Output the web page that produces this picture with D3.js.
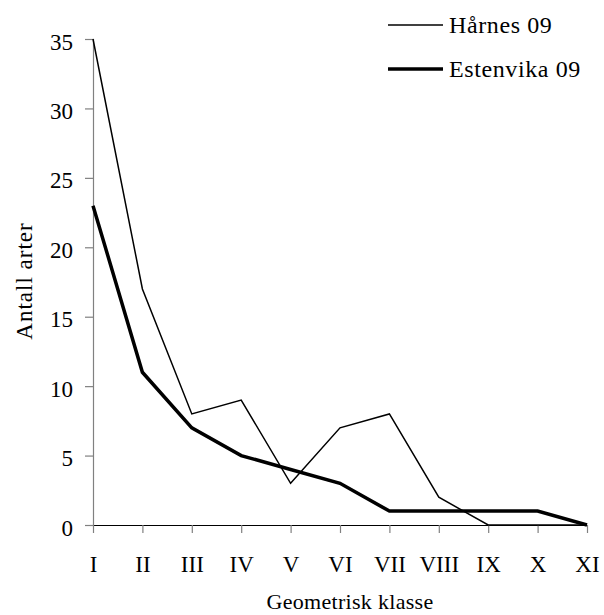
<!DOCTYPE html>
<html>
<head>
<meta charset="utf-8">
<script src="https://cdn.jsdelivr.net/npm/d3@7"></script>
<style>
  body { margin: 0; background: #fff; }
  svg text { font-family: "Liberation Serif", "DejaVu Serif", serif !important; fill: #000; }
</style>
</head>
<body>
<div id="chart"></div>
<script>
var classes = ['I', 'II', 'III', 'IV', 'V', 'VI', 'VII', 'VIII', 'IX', 'X', 'XI'];
var harnes = [35, 17, 8, 9, 3, 7, 8, 2, 0, 0, 0];
var estenvika = [23, 11, 7, 5, 4, 3, 1, 1, 1, 1, 0];
var yTicks = [0, 5, 10, 15, 20, 25, 30, 35];

var series = [
  { name: 'Hårnes 09', values: harnes, width: 1.5 },
  { name: 'Estenvika 09', values: estenvika, width: 3.5 }
];

var width = 604, height = 615;
var svg = d3.select('#chart').append('svg')
  .attr('width', width)
  .attr('height', height);

var x = d3.scalePoint().domain(classes).range([93, 587]);
var y = d3.scaleLinear().domain([0, 35]).range([525, 39]);

// y axis, grey like the original
var yAxis = svg.append('g')
  .attr('transform', 'translate(93,0)')
  .call(d3.axisLeft(y).tickValues(yTicks).tickSize(8).tickPadding(12));
yAxis.select('.domain').attr('stroke', '#808080').attr('stroke-width', 1.2);
yAxis.selectAll('.tick line').attr('stroke', '#808080').attr('stroke-width', 1.2);
yAxis.selectAll('text')
  .attr('x', -20)
  .attr('dy', 10)
  .style('font-size', '23px');

// x axis
var xAxis = svg.append('g')
  .attr('transform', 'translate(0,525)')
  .call(d3.axisBottom(x).tickSize(8).tickSizeOuter(0));
xAxis.select('.domain').attr('stroke', '#000').attr('stroke-width', 1.2);
xAxis.selectAll('.tick line').attr('stroke', '#808080').attr('stroke-width', 1.2);
xAxis.selectAll('text')
  .attr('y', 47)
  .attr('dy', 0)
  .style('font-size', '23px');

var line = d3.line()
  .x(function(d, i) { return x(classes[i]); })
  .y(function(d) { return y(d); });

svg.selectAll('path.series')
  .data(series)
  .enter().append('path')
  .attr('class', 'series')
  .attr('d', function(d) { return line(d.values); })
  .attr('fill', 'none')
  .attr('stroke', '#000')
  .attr('stroke-width', function(d) { return d.width; });

// axis titles
svg.append('text')
  .attr('x', 350).attr('y', 609)
  .attr('text-anchor', 'middle')
  .style('font-size', '22px')
  .style('letter-spacing', '0.3px')
  .text('Geometrisk klasse');

svg.append('text')
  .attr('transform', 'translate(32,281) rotate(-90)')
  .attr('text-anchor', 'middle')
  .style('font-size', '23px')
  .style('letter-spacing', '1px')
  .text('Antall arter');

// legend
var legend = svg.selectAll('g.legend')
  .data(series)
  .enter().append('g')
  .attr('class', 'legend')
  .attr('transform', function(d, i) { return 'translate(388,' + (25 + i * 44) + ')'; });
legend.append('line')
  .attr('x1', 0).attr('x2', 55)
  .attr('stroke', '#000')
  .attr('stroke-width', function(d) { return d.width; });
legend.append('text')
  .attr('x', 61).attr('y', 8)
  .style('font-size', '24px')
  .style('letter-spacing', '0.6px')
  .text(function(d) { return d.name; });
</script>
</body>
</html>
